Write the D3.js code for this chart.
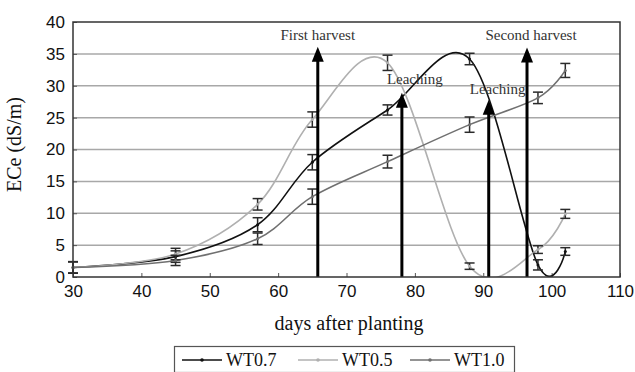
<!DOCTYPE html>
<html>
<head>
<meta charset="utf-8">
<script src="https://cdn.jsdelivr.net/npm/d3@7"></script>
<style>
	body { margin: 0; background: #fff; }
	svg { display: block; }
	.serif { font-family: 'Liberation Serif', Tinos, 'Times New Roman', 'DejaVu Serif', serif; }
</style>
</head>
<body>
<svg id="chart" width="635" height="372"></svg>
<script>
// sampling days and ECe means / error bars
const days = [30, 45, 57, 65, 76, 88, 98, 102]
const wt07 = [1.5, 3.2, 8.2, 18.0, 26.2, 34.2, 1.9, 4.0]
const wt05 = [1.5, 3.6, 11.4, 24.7, 33.6, 1.7, 4.3, 9.9]
const wt10 = [1.5, 2.6, 6.0, 12.6, 18.1, 23.9, 28.1, 32.4]
const wt07Err = [0.9, 0.9, 1.1, 1.2, 0.8, 0.9, 0.8, 0.6]
const wt05Err = [0.9, 0.9, 0.9, 1.2, 1.2, 0.5, 0.6, 0.7]
const wt10Err = [0.9, 0.8, 0.9, 1.2, 1.0, 1.2, 0.9, 1.1]

const seriesNames = ['WT0.7', 'WT0.5', 'WT1.0']

// arrows for events
const eventDays = [65.8, 78.1, 90.8, 96.4]
const eventTops = [36.1, 28.9, 27.8, 36]
const eventLabels = ['First harvest', 'Leaching', 'Leaching', 'Second harvest']

const xTicks = [30, 40, 50, 60, 70, 80, 90, 100, 110]
const yTicks = [0, 5, 10, 15, 20, 25, 30, 35, 40]

const series = [
	{ name: seriesNames[0], values: wt07, err: wt07Err, color: '#111' },
	{ name: seriesNames[1], values: wt05, err: wt05Err, color: '#b0b0b0' },
	{ name: seriesNames[2], values: wt10, err: wt10Err, color: '#707070' }
]

const svg = d3.select('#chart')
const margin = { top: 22, right: 15, bottom: 95, left: 73 }
const width = 635 - margin.left - margin.right
const height = 372 - margin.top - margin.bottom

const x = d3.scaleLinear().domain([30, 110]).range([0, width])
const y = d3.scaleLinear().domain([0, 40]).range([height, 0])

const chart = svg.append('g')
	.attr('transform', `translate(${margin.left}, ${margin.top})`)

svg.append('defs').append('clipPath').attr('id', 'plot-clip')
	.append('rect').attr('width', width).attr('height', height)

// gridlines
chart.append('g')
	.selectAll('line')
	.data(yTicks.filter(t => t > 0 && t < 40))
	.join('line')
	.attr('x1', 0).attr('x2', width)
	.attr('y1', d => y(d)).attr('y2', d => y(d))
	.attr('stroke', '#a8a8a8')
	.attr('stroke-width', 1.5)

// axes
const xAxis = d3.axisBottom(x).tickValues(xTicks).tickSize(-4).tickPadding(8)
const yAxis = d3.axisLeft(y).tickValues(yTicks).tickSize(-4).tickPadding(8)

const gx = chart.append('g')
	.attr('transform', `translate(0, ${height})`)
	.call(xAxis)
gx.select('.domain').remove()
gx.selectAll('line').attr('stroke', '#555')
gx.selectAll('text')
	.attr('font-size', 17)
	.attr('fill', '#111')
	.attr('dy', '0.72em')

const gy = chart.append('g').call(yAxis)
gy.select('.domain').remove()
gy.selectAll('line').attr('stroke', '#555')
gy.selectAll('text')
	.attr('font-size', 17)
	.attr('fill', '#111')
svg.selectAll('.tick text').style('font-family', "'Liberation Sans', Arial, sans-serif")

// lines (Excel-style smoothing)
const line = d3.line()
	.x(d => x(d.day))
	.y(d => y(d.v))
	.curve(d3.curveCardinal.tension(0))

const plot = chart.append('g').attr('clip-path', 'url(#plot-clip)')

series.forEach(s => {
	const pts = days.map((d, i) => ({ day: d, v: s.values[i], e: s.err[i] }))
	plot.append('path')
		.attr('d', line(pts))
		.attr('fill', 'none')
		.attr('stroke', s.color)
		.attr('stroke-width', 1.6)
	s.pts = pts
})

// error bars
series.forEach(s => {
	const g = chart.append('g').attr('stroke', '#2a2a2a').attr('stroke-width', 1.5)
	s.pts.forEach(p => {
		const cx = x(p.day)
		g.append('line')
			.attr('x1', cx).attr('x2', cx)
			.attr('y1', y(p.v - p.e)).attr('y2', y(p.v + p.e))
		g.append('line')
			.attr('x1', cx - 5).attr('x2', cx + 5)
			.attr('y1', y(p.v - p.e)).attr('y2', y(p.v - p.e))
		g.append('line')
			.attr('x1', cx - 5).attr('x2', cx + 5)
			.attr('y1', y(p.v + p.e)).attr('y2', y(p.v + p.e))
	})
	chart.append('g')
		.selectAll('circle')
		.data(s.pts)
		.join('circle')
		.attr('r', 1.5)
		.attr('cx', d => x(d.day))
		.attr('cy', d => y(d.v))
		.attr('fill', s.color)
})

// event arrows
const labelPos = [
	{ dx: 0, y: 40, anchor: 'middle' },
	{ dx: -15, y: 84, anchor: 'start' },
	{ dx: -19, y: 94, anchor: 'start' },
	{ dx: 4, y: 40, anchor: 'middle' }
]
eventDays.forEach((d, i) => {
	const ax = x(d)
	const top = y(eventTops[i])
	chart.append('line')
		.attr('x1', ax).attr('x2', ax)
		.attr('y1', height).attr('y2', top + 10)
		.attr('stroke', '#000')
		.attr('stroke-width', 3)
	chart.append('path')
		.attr('d', `M${ax},${top} L${ax - 6},${top + 15} L${ax + 6},${top + 15} Z`)
		.attr('fill', '#000')
	chart.append('text')
		.attr('class', 'serif')
		.attr('x', ax + labelPos[i].dx)
		.attr('y', labelPos[i].y - margin.top)
		.attr('text-anchor', labelPos[i].anchor)
		.attr('font-size', 15)
		.attr('fill', '#333')
		.text(eventLabels[i])
})

// frame
chart.append('rect')
	.attr('width', width).attr('height', height)
	.attr('fill', 'none')
	.attr('stroke', '#333')
	.attr('stroke-width', 1.5)

// axis titles
chart.append('text')
	.attr('class', 'serif')
	.attr('transform', `translate(${-52}, ${height / 2 - 5}) rotate(-90)`)
	.attr('text-anchor', 'middle')
	.attr('font-size', 20)
	.attr('fill', '#111')
	.text('ECe (dS/m)')

chart.append('text')
	.attr('class', 'serif')
	.attr('x', 349 - margin.left)
	.attr('y', 330 - margin.top)
	.attr('text-anchor', 'middle')
	.attr('font-size', 20)
	.attr('fill', '#111')
	.text('days after planting')

// legend
const leg = svg.append('g')
leg.append('rect')
	.attr('x', 174.5).attr('y', 346.5)
	.attr('width', 340).attr('height', 26)
	.attr('fill', '#fff')
	.attr('stroke', '#555')
	.attr('stroke-width', 1.2)
const legX = [182, 298, 410]
series.forEach((s, i) => {
	leg.append('line')
		.attr('x1', legX[i]).attr('x2', legX[i] + 40)
		.attr('y1', 360).attr('y2', 360)
		.attr('stroke', s.color)
		.attr('stroke-width', 1.6)
	leg.append('circle')
		.attr('cx', legX[i] + 20).attr('cy', 360).attr('r', 1.8)
		.attr('fill', s.color)
	leg.append('text')
		.attr('class', 'serif')
		.attr('x', legX[i] + 44)
		.attr('y', 366)
		.attr('font-size', 18)
		.attr('fill', '#111')
		.text(s.name)
})
</script>
</body>
</html>
